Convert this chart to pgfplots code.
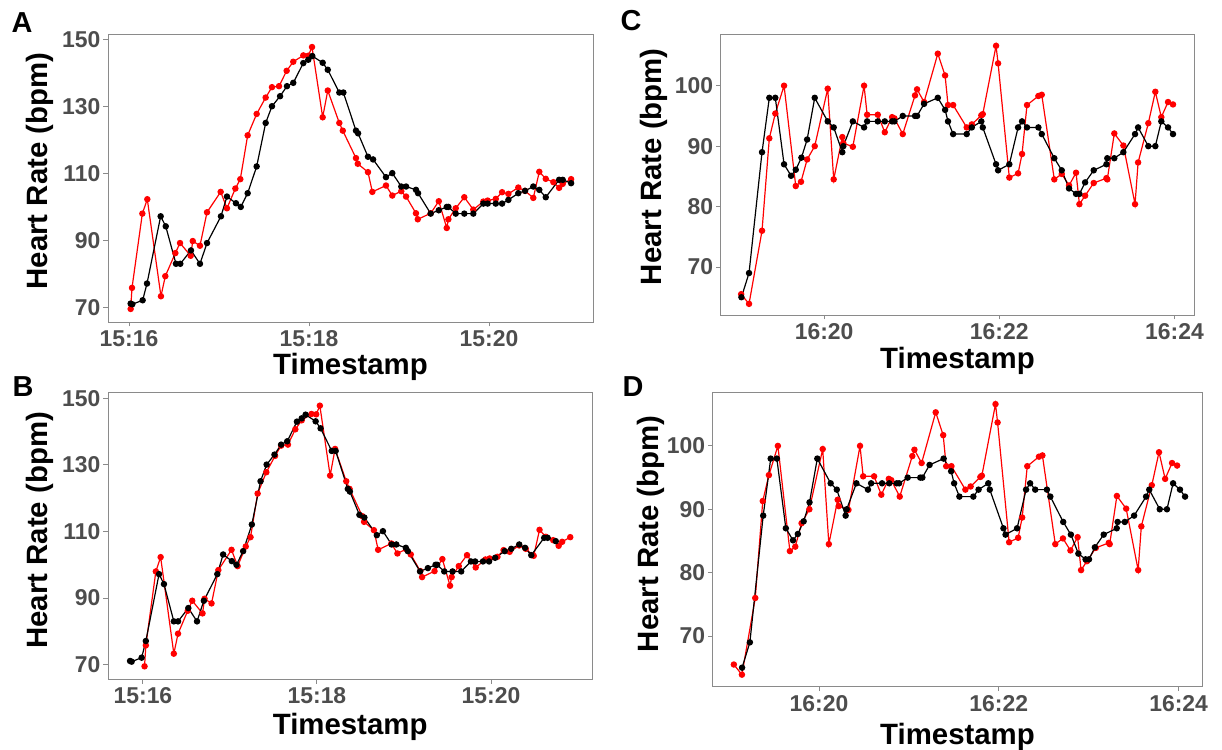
\documentclass[border=0pt]{standalone}
\usepackage{fontspec}
\setmainfont{Liberation Sans}
\usepackage{pgfplots}
\pgfplotsset{compat=1.18}
\usepackage{pgfplotstable}

\definecolor{tickgrey}{HTML}{4D4D4D}
\definecolor{framegrey}{HTML}{8A8A8A}
\definecolor{hrred}{HTML}{FF0000}

% Panel A/B: time in seconds after 15:16
\pgfplotstableread{
t hr
1.1 69.5
2.0 75.8
8.9 98.0
12.2 102.3
21.3 73.3
24.2 79.3
30.9 86.2
34.0 89.2
41.1 85.4
42.5 89.8
47.3 88.4
52.0 98.4
61.1 104.5
65.3 99.6
70.9 105.5
74.2 108.3
79.1 121.4
85.1 127.8
91.1 132.7
95.3 135.8
100.0 136.1
105.1 140.7
109.5 143.4
116.2 145.3
119.5 145.2
122.0 147.8
129.1 126.8
132.5 134.8
140.2 125.1
142.5 122.8
151.3 114.6
152.5 112.9
159.3 110.4
162.2 104.5
171.3 106.4
175.5 103.4
181.5 104.7
184.7 103.1
191.3 98.1
192.5 96.3
201.1 98.1
206.5 101.7
211.8 93.7
212.9 96.3
217.8 99.6
223.5 102.9
229.5 99.2
236.2 101.6
239.1 101.9
244.5 102.4
248.7 104.4
252.9 103.9
259.5 105.8
264.0 104.8
269.5 102.7
273.5 110.5
277.8 108.4
282.9 107.4
286.7 105.7
289.1 106.9
294.7 108.3
}\redAB

\pgfplotstableread{
t hr
1.1 71.1
2.2 70.9
9.1 72.1
12.0 77.1
21.1 97.2
24.5 94.2
31.3 83.0
34.2 83.0
41.3 87.0
47.3 83.0
52.0 89.2
61.3 97.2
65.3 103.1
71.3 101.1
74.5 100.0
79.1 104.1
85.1 112.1
91.1 125.1
95.3 130.1
100.7 133.1
105.3 136.1
109.5 137.1
116.2 143.0
119.5 144.0
122.2 145.1
129.1 143.1
132.5 141.0
140.2 134.2
142.9 134.2
151.3 122.8
152.7 122.0
159.3 115.0
162.7 114.2
171.3 108.9
175.5 110.1
181.5 106.1
184.7 106.1
191.3 105.1
192.7 104.1
201.1 98.0
206.5 99.0
211.8 100.0
212.9 100.0
217.8 98.0
223.5 98.0
229.5 98.0
236.2 101.0
239.1 101.0
244.5 101.0
248.7 101.0
252.9 102.1
259.5 104.1
264.0 104.8
269.5 106.1
273.5 105.1
277.8 102.9
286.7 108.1
289.1 108.1
294.7 107.1
}\blackAB

% Panel C/D: time in seconds after 16:20
\pgfplotstableread{
t hr
-56.8 65.5
-51.4 63.9
-42.5 76.0
-37.5 91.3
-33.4 95.4
-27.4 100.0
-19.4 83.4
-15.8 84.1
-11.6 87.8
-6.4 90.0
2.5 99.5
6.6 84.5
12.5 91.5
13.2 90.5
19.7 89.9
27.4 100.0
29.5 95.2
36.8 95.2
41.6 92.3
46.6 94.8
48.2 94.6
53.9 92.0
62.3 98.4
63.7 99.4
68.5 97.3
77.9 105.3
82.9 101.7
84.9 96.8
88.4 96.8
97.7 93.1
101.2 93.6
107.7 95.1
108.7 95.3
117.8 106.6
119.2 103.7
126.9 84.8
132.9 85.5
135.6 88.7
139.0 96.8
146.8 98.3
149.1 98.5
157.7 84.5
162.8 85.4
167.8 83.5
172.6 85.6
174.9 80.4
178.8 81.8
184.7 83.9
193.4 84.7
194.0 84.5
198.8 92.1
205.0 90.1
213.0 80.4
215.1 87.3
222.1 93.8
226.9 99.0
231.0 94.8
235.6 97.3
239.0 96.9
}\redCD

\pgfplotstableread{
t hr
-56.6 65.0
-51.4 69.0
-42.5 89.0
-37.5 98.0
-33.4 98.0
-27.4 87.0
-22.6 85.1
-19.4 86.1
-15.5 88.1
-11.6 91.1
-6.4 98.0
2.5 94.1
6.6 93.1
12.5 89.0
13.2 90.0
19.7 94.1
27.4 93.1
29.5 94.1
36.8 94.1
41.6 94.1
46.6 94.1
48.2 94.1
53.9 95.0
62.3 95.0
63.7 95.0
68.5 97.0
77.9 98.0
82.9 96.0
84.9 94.1
88.4 92.0
97.7 92.0
101.2 93.1
107.7 94.1
108.7 93.1
117.8 87.0
119.2 86.0
126.9 87.0
132.9 93.1
135.6 94.1
139.0 93.1
146.8 93.1
149.1 92.0
157.7 88.0
162.8 86.0
167.8 83.0
172.6 82.1
174.9 82.1
178.8 84.0
184.7 86.0
193.4 87.0
194.0 88.0
198.8 88.0
205.0 89.0
213.0 92.0
215.1 93.1
222.1 90.0
226.9 90.0
231.0 94.1
235.6 93.1
239.0 92.0
}\blackCD

\pgfplotsset{
  hrstyle/.style={
    scale only axis,
    axis line style={framegrey, line width=0.9bp},
    tick style={framegrey, line width=0.9bp},
    tick align=outside,
    major tick length=4.5bp,
    xtick pos=bottom,
    ytick pos=left,
    /pgf/number format/assume math mode=true,
    tick label style={font=\fontsize{23}{26}\selectfont\bfseries, text=tickgrey},
    xticklabel style={anchor=base, yshift=-20bp},
    yticklabel style={anchor=east, inner sep=0pt, xshift=-3bp},
    label style={font=\fontsize{29.5}{32}\selectfont\bfseries, text=black},
    xlabel={Timestamp},
    ylabel={Heart Rate (bpm)},
    every axis plot/.append style={line width=1.2bp, mark=*, mark size=2.6bp},
  },
  redline/.style={color=hrred, mark options={fill=hrred, draw=hrred}},
  blackline/.style={color=black, mark options={fill=black, draw=black}},
}

\begin{document}
\begin{tikzpicture}
\path[use as bounding box] (0,0) rectangle (1222bp,750bp);

% Panel A
\begin{axis}[hrstyle,
  at={(108bp,428bp)}, anchor=south west,
  width=485bp, height=288bp,
  xmin=-14, xmax=309.3, ymin=65.6, ymax=151.7,
  xtick={0,120,240}, xticklabels={15:16,15:18,15:20},
  ytick={70,90,110,130,150},
  xlabel style={at={(axis description cs:0.5,-0.1806)}, anchor=base},
  ylabel style={at={(axis description cs:-0.140,0.524)}, anchor=center},
]
\addplot[redline] table[x=t, y=hr] {\redAB};
\addplot[blackline] table[x=t, y=hr] {\blackAB};
\end{axis}

% Panel B
\begin{axis}[hrstyle,
  at={(108bp,70.7bp)}, anchor=south west,
  width=484.3bp, height=286.6bp,
  xmin=-24.1, xmax=309.9, ymin=65.6, ymax=151.7,
  xtick={0,120,240}, xticklabels={15:16,15:18,15:20},
  ytick={70,90,110,130,150},
  xlabel style={at={(axis description cs:0.5,-0.192)}, anchor=base},
  ylabel style={at={(axis description cs:-0.140,0.52)}, anchor=center},
]
\addplot[redline] table[x=t, y=hr] {\redAB};
\addplot[blackline] table[x expr=\thisrow{t}-10, y=hr] {\blackAB};
\end{axis}

% Panel C
\begin{axis}[hrstyle,
  at={(720.7bp,435bp)}, anchor=south west,
  width=473.6bp, height=281bp,
  xmin=-70.8, xmax=253.6, ymin=62.06, ymax=108.56,
  xtick={0,120,240}, xticklabels={16:20,16:22,16:24},
  ytick={70,80,90,100},
  xlabel style={at={(axis description cs:0.5,-0.189)}, anchor=base},
  ylabel style={at={(axis description cs:-0.1408,0.528)}, anchor=center},
]
\addplot[redline] table[x=t, y=hr] {\redCD};
\addplot[blackline] table[x=t, y=hr] {\blackCD};
\end{axis}

% Panel D
\begin{axis}[hrstyle,
  at={(712.7bp,63.3bp)}, anchor=south west,
  width=489.6bp, height=294bp,
  xmin=-70.9, xmax=255.8, ymin=62.0, ymax=108.4,
  xtick={0,120,240}, xticklabels={16:20,16:22,16:24},
  ytick={70,80,90,100},
  xlabel style={at={(axis description cs:0.5,-0.195)}, anchor=base},
  ylabel style={at={(axis description cs:-0.126,0.52)}, anchor=center},
]
\addplot[redline] table[x=t, y=hr] {\redCD};
\addplot[blackline] table[x expr=\thisrow{t}+5.3, y=hr] {\blackCD};
\end{axis}

\node[anchor=base west, font=\fontsize{29}{30}\selectfont\bfseries] at (8bp,717bp) {A};
\node[anchor=base west, font=\fontsize{29}{30}\selectfont\bfseries] at (9bp,353bp) {B};
\node[anchor=base west, font=\fontsize{29}{30}\selectfont\bfseries] at (617bp,719bp) {C};
\node[anchor=base west, font=\fontsize{29}{30}\selectfont\bfseries] at (619bp,353bp) {D};
\end{tikzpicture}
\end{document}
